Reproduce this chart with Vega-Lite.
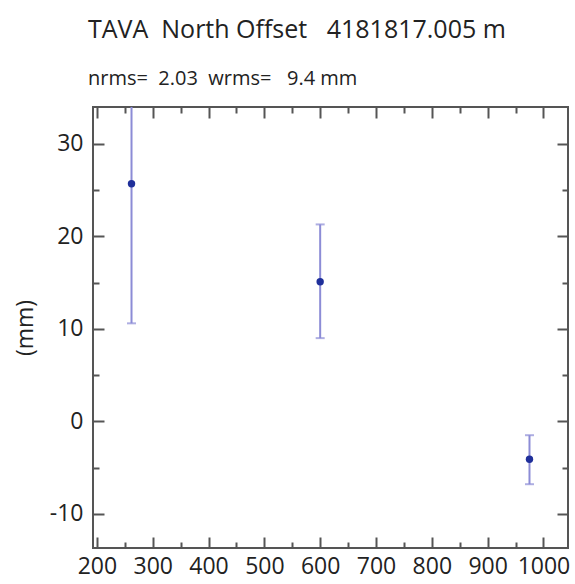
{
  "$schema": "https://vega.github.io/schema/vega-lite/v6.json",
  "width": 475,
  "height": 441,
  "autosize": {"type": "none"},
  "padding": {"left": 93, "top": 107, "right": 7, "bottom": 36},
  "background": "white",
  "title": {
    "text": "TAVA\u00a0\u00a0North Offset\u00a0\u00a0\u00a04181817.005 m",
    "subtitle": "nrms=\u00a0\u00a02.03\u00a0\u00a0wrms=\u00a0\u00a0\u00a09.4 mm",
    "anchor": "start",
    "frame": "group",
    "dx": -5,
    "font": "Open Sans",
    "fontSize": 25,
    "fontWeight": "normal",
    "color": "#222222",
    "subtitleFont": "Open Sans",
    "subtitleFontSize": 20,
    "subtitleColor": "#222222",
    "subtitlePadding": 26,
    "offset": 17
  },
  "config": {"view": {"stroke": "#555555", "strokeWidth": 2}},
  "data": {
    "values": [
      {"t": 262, "v": 25.7, "lo": 10.6, "hi": 40.8},
      {"t": 600, "v": 15.1, "lo": 9.0, "hi": 21.3},
      {"t": 975, "v": -4.1, "lo": -6.8, "hi": -1.5}
    ]
  },
  "layer": [
    {
      "mark": {"type": "rule", "color": "#8c8cd6", "strokeWidth": 2, "clip": true},
      "encoding": {
        "x": {
          "field": "t", "type": "quantitative",
          "scale": {"domain": [193, 1044], "nice": false, "zero": false},
          "axis": {
            "orient": "bottom", "title": null, "domain": false, "grid": false,
            "values": [200, 250, 300, 350, 400, 450, 500, 550, 600, 650, 700, 750, 800, 850, 900, 950, 1000],
            "labelExpr": "datum.value % 100 == 0 ? '' + datum.value : ''",
            "tickSize": {"condition": {"test": "datum.value % 100 == 0", "value": -11}, "value": -6},
            "tickColor": "#555555", "tickWidth": 2,
            "labelFont": "Open Sans", "labelFontSize": 23, "labelColor": "#222222",
            "labelPadding": 18, "labelOverlap": false, "labelFlush": false
          }
        },
        "y": {
          "field": "lo", "type": "quantitative",
          "scale": {"domain": [-13.7, 34.0], "nice": false, "zero": false},
          "axis": {
            "orient": "left", "title": "(mm)", "domain": false, "grid": false,
            "values": [-10, -5, 0, 5, 10, 15, 20, 25, 30],
            "labelExpr": "datum.value % 10 == 0 ? '' + datum.value : ''",
            "tickSize": {"condition": {"test": "datum.value % 10 == 0", "value": -11}, "value": -6},
            "tickColor": "#555555", "tickWidth": 2,
            "labelFont": "Open Sans", "labelFontSize": 23, "labelColor": "#222222",
            "labelPadding": 21, "labelOverlap": false, "labelFlush": false,
            "titleFont": "Open Sans", "titleFontSize": 23, "titleFontWeight": "normal",
            "titleColor": "#222222", "titlePadding": 12
          }
        },
        "y2": {"field": "hi"}
      }
    },
    {
      "mark": {"type": "tick", "orient": "horizontal", "color": "#8c8cd6", "thickness": 2, "size": 9, "clip": true},
      "encoding": {
        "x": {
          "field": "t", "type": "quantitative",
          "axis": {
            "orient": "top", "title": null, "domain": false, "grid": false, "labels": false,
            "values": [200, 250, 300, 350, 400, 450, 500, 550, 600, 650, 700, 750, 800, 850, 900, 950, 1000],
            "tickSize": {"condition": {"test": "datum.value % 100 == 0", "value": -11}, "value": -6},
            "tickColor": "#555555", "tickWidth": 2
          }
        },
        "y": {
          "field": "lo", "type": "quantitative",
          "axis": {
            "orient": "right", "title": null, "domain": false, "grid": false, "labels": false,
            "values": [-10, -5, 0, 5, 10, 15, 20, 25, 30],
            "tickSize": {"condition": {"test": "datum.value % 10 == 0", "value": -11}, "value": -6},
            "tickColor": "#555555", "tickWidth": 2
          }
        }
      }
    },
    {
      "mark": {"type": "tick", "orient": "horizontal", "color": "#8c8cd6", "thickness": 2, "size": 9, "clip": true},
      "encoding": {
        "x": {"field": "t", "type": "quantitative", "axis": null},
        "y": {"field": "hi", "type": "quantitative", "axis": null}
      }
    },
    {
      "mark": {"type": "point", "filled": true, "color": "#1f2f9a", "opacity": 1, "size": 55, "clip": true},
      "encoding": {
        "x": {"field": "t", "type": "quantitative", "axis": null},
        "y": {"field": "v", "type": "quantitative", "axis": null}
      }
    }
  ],
  "resolve": {"axis": {"x": "independent", "y": "independent"}}
}
